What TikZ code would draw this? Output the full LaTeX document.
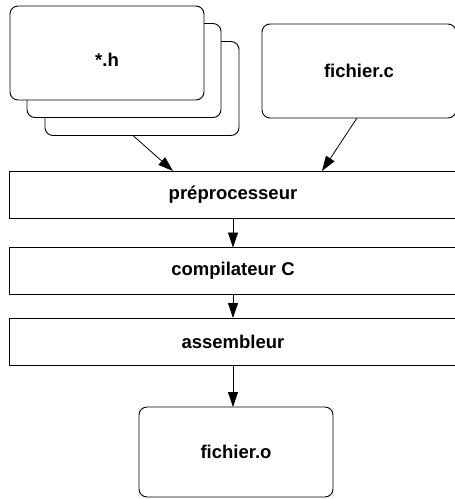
\documentclass[tikz,border=0pt]{standalone}
\usepackage{fontspec}
\setmainfont{Liberation Sans}
\usetikzlibrary{arrows.meta}
\begin{document}
\begin{tikzpicture}[x=1pt,y=-1pt,
  filebox/.style={draw=black,fill=white,line width=0.9pt,rounded corners=8pt,minimum width=194pt,minimum height=94pt,inner sep=0pt,outer sep=0pt,font=\fontsize{18.5}{22}\selectfont\bfseries},
  stagebox/.style={draw=black,fill=white,line width=0.9pt,minimum width=448pt,minimum height=47pt,inner sep=0pt,outer sep=0pt,font=\fontsize{18.5}{22}\selectfont\bfseries},
  flow/.style={line width=0.8pt,-{Triangle[length=15pt,width=10pt]}}]
\useasboundingbox (0,0) rectangle (455,499);
\clip (0,0) rectangle (455,499);
% header stack
\node[filebox] (h3) at (142,88.5) {};
\node[filebox] (h2) at (124,70.5) {};
\node[filebox] (h1) at (107,53) {};
\node[font=\fontsize{18.5}{22}\selectfont\bfseries] (htxt) at (107,60) {*.h};
\node[filebox] (fc) at (359,71) {fichier.c};
% stages
\node[stagebox] (prep) at (233,194.5) {préprocesseur};
\node[stagebox] (comp) at (233,271) {compilateur C};
\node[stagebox] (asm) at (233,341.5) {assembleur};
\node[filebox,minimum height=90pt] (fo) at (236,452) {fichier.o};
% connectors
\draw[flow] ([xshift=-9pt]h3.south) -- ([xshift=-60pt]prep.north);
\draw[flow] ([xshift=-2pt]fc.south) -- ([xshift=89pt]prep.north);
\draw[flow] (prep.south) -- (comp.north);
\draw[flow] (comp.south) -- (asm.north);
\draw[flow] (asm.south) -- (asm.south |- fo.north);
\end{tikzpicture}
\end{document}
